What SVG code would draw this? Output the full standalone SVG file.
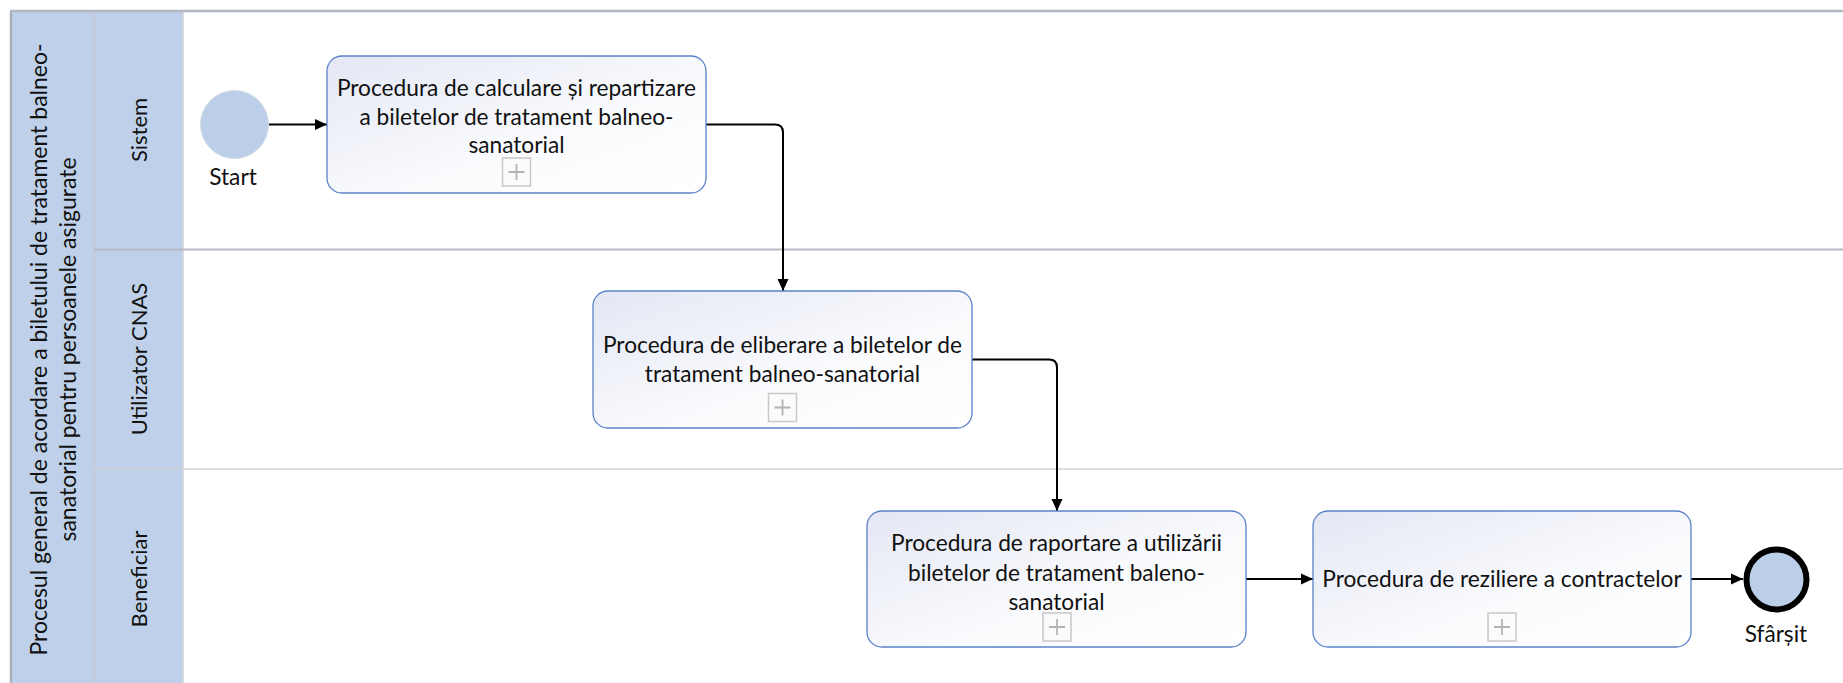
<svg xmlns="http://www.w3.org/2000/svg" width="1843" height="683" viewBox="0 0 1843 683">
<defs>
<linearGradient id="taskFill" x1="0" y1="0" x2="1" y2="1">
<stop offset="0" stop-color="#e4e7f4"/>
<stop offset="0.6" stop-color="#fafbfd"/>
<stop offset="1" stop-color="#ffffff"/>
</linearGradient>
<marker id="arr" viewBox="0 0 12 12" refX="12" refY="6" markerWidth="12" markerHeight="12" markerUnits="userSpaceOnUse" orient="auto">
<path d="M0,0.5 L12,6 L0,11.5 Z" fill="#000"/>
</marker>
<g id="plus">
<rect x="-14" y="-14" width="28" height="28" fill="#fbfbfb" stroke="#c8c8c8" stroke-width="1.5"/>
<path d="M-8,0 H8 M0,-8 V8" stroke="#b3b3b3" stroke-width="1.8"/>
</g>
</defs>
<style>
text{font-family:Lato,"Liberation Sans",sans-serif;font-size:22.7px;fill:#111;}
.c{text-anchor:middle;}
.title{font-size:23px;}
.lane{font-size:22px;}
.task{fill:url(#taskFill);stroke:#5a82c8;stroke-width:1.3;}
.hdr{fill:#bfd1ea;}
.conn{fill:none;stroke:#000;stroke-width:2;marker-end:url(#arr);}
</style>
<rect x="0" y="0" width="1843" height="683" fill="#fff"/>
<g id="pool">
<rect class="hdr" x="11" y="11" width="172" height="680"/>
<line x1="94" y1="11" x2="94" y2="691" stroke="#c6c9cd" stroke-width="1.5"/>
<line x1="183" y1="11" x2="183" y2="691" stroke="#d2d5d9" stroke-width="1.5"/>
<line x1="11" y1="11" x2="11" y2="691" stroke="#a9b0b9" stroke-width="2.5"/>
<line x1="10" y1="11" x2="1843" y2="11" stroke="#b3b9c3" stroke-width="2.5"/>
<line x1="94" y1="249.5" x2="1843" y2="249.5" stroke="#b5bac3" stroke-width="2"/>
<line x1="94" y1="469" x2="1843" y2="469" stroke="#cfd2d6" stroke-width="1.5"/>
<text class="c title" transform="translate(47,349.5) rotate(-90)">Procesul general de acordare a biletului de tratament balneo-</text>
<text class="c title" transform="translate(75.5,349.5) rotate(-90)">sanatorial pentru persoanele asigurate</text>
</g>
<g id="lane-sistem"><text class="c lane" transform="translate(146.5,130) rotate(-90)">Sistem</text></g>
<g id="lane-utilizator"><text class="c lane" transform="translate(146.5,359) rotate(-90)">Utilizator CNAS</text></g>
<g id="lane-beneficiar"><text class="c lane" transform="translate(146.5,579) rotate(-90)">Beneficiar</text></g>

<g id="connectors">
<path class="conn" d="M269,124.5 H327"/>
<path class="conn" d="M706,124.5 H775 Q783,124.5 783,132.5 V291"/>
<path class="conn" d="M972,359.5 H1049 Q1057,359.5 1057,367.5 V511"/>
<path class="conn" d="M1246,579 H1313"/>
<path class="conn" d="M1691,579 H1743"/>
</g>

<g id="start">
<circle cx="234.5" cy="124.5" r="34" fill="#bccfe8" stroke="#d4dbe4" stroke-width="1"/>
<text class="c" x="233" y="185">Start</text>
</g>

<g id="task1">
<rect class="task" x="327" y="56" width="379" height="137" rx="15"/>
<text class="c" x="516.5" y="96">Procedura de calculare și repartizare</text>
<text class="c" x="516.5" y="124.5">a biletelor de tratament balneo-</text>
<text class="c" x="516.5" y="153">sanatorial</text>
<use href="#plus" x="516.5" y="172"/>
</g>

<g id="task2">
<rect class="task" x="593" y="291" width="379" height="137" rx="15"/>
<text class="c" x="782.5" y="353">Procedura de eliberare a biletelor de</text>
<text class="c" x="782.5" y="382">tratament balneo-sanatorial</text>
<use href="#plus" x="782.5" y="407.5"/>
</g>

<g id="task3">
<rect class="task" x="867" y="511" width="379" height="136" rx="15"/>
<text class="c" x="1056.5" y="551">Procedura de raportare a utilizării</text>
<text class="c" x="1056.5" y="580.5">biletelor de tratament baleno-</text>
<text class="c" x="1056.5" y="609.5">sanatorial</text>
<use href="#plus" x="1057" y="627"/>
</g>

<g id="task4">
<rect class="task" x="1313" y="511" width="378" height="136" rx="15"/>
<text class="c" x="1502" y="587">Procedura de reziliere a contractelor</text>
<use href="#plus" x="1502" y="627"/>
</g>

<g id="end">
<circle cx="1776.5" cy="579.5" r="30" fill="#bccfe8" stroke="#000" stroke-width="6"/>
<text class="c" x="1776" y="642">Sfârșit</text>
</g>
</svg>
